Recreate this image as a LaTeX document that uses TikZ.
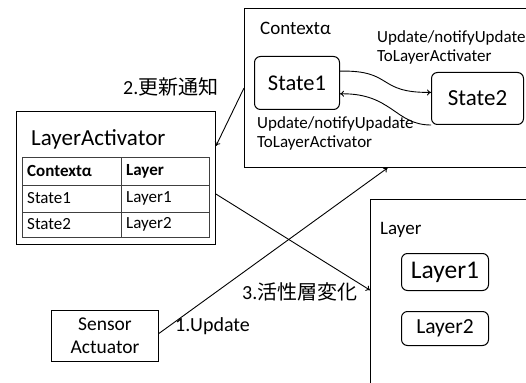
\documentclass[tikz,border=0pt]{standalone}
\usepackage{fontspec}
\setmainfont{Carlito}
\newfontfamily\cjk{Noto Sans CJK JP}
\usetikzlibrary{arrows.meta,calc}
\begin{document}
\begin{tikzpicture}[x=1pt,y=-1pt,
  box/.style={draw,line width=1pt,inner sep=0pt},
  rbox/.style={draw,line width=1pt,rounded corners=6pt,inner sep=0pt},
  txt/.style={inner sep=0pt,anchor=west},
  tbl/.style={draw=black!75,line width=0.8pt},
  arr/.style={-{To[length=4pt,width=6pt]},line width=0.9pt},
]
\useasboundingbox (0,0) rectangle (526,382);
\fill[white] (0,0) rectangle (526,382);
\clip (0,0) rectangle (526,382);

% Context box
\node[box,minimum width=286pt,minimum height=159pt,anchor=north west] (ctx) at (244,8) {};
\node[txt,font=\fontsize{19}{21}\selectfont] (ctxlbl) at (260,28) {Contextα};
\node[rbox,minimum width=85pt,minimum height=53pt,anchor=north west,font=\fontsize{22.5}{24}\selectfont] (s1) at (254,56) {State1};
\node[rbox,minimum width=92pt,minimum height=52pt,anchor=north west,font=\fontsize{23}{25}\selectfont] (s2) at (431,72) {State2};
\node[txt,anchor=north west,align=left,font=\fontsize{17}{19}\selectfont] (lbltop) at (377,30) {Update/notifyUpdate\\ToLayerActivater};
\node[txt,anchor=north west,align=left,font=\fontsize{17}{19}\selectfont] (lblbot) at (257,116) {Update/notifyUpadate\\ToLayerActivator};
\draw[arr] ($(s1.north east)!0.28!(s1.south east)$) .. controls (394,70) and (376,93) .. ($(s2.north west)!0.385!(s2.south west)$);
\draw[arr] (s2.south west) .. controls (395,125) and (392,93) .. ($(s1.north east)!0.7!(s1.south east)$);

% LayerActivator
\node[box,minimum width=199pt,minimum height=133pt,anchor=north west] (la) at (16,111) {};
\node[txt,font=\fontsize{23}{25}\selectfont] (latitle) at (31,139) {LayerActivator};
\draw[tbl] (22,157) rectangle (209,237);
\draw[tbl] (121,157) -- (121,237);
\draw[tbl] (22,185) -- (209,185);
\draw[tbl] (22,212) -- (209,212);
\node[txt,font=\fontsize{17}{19}\selectfont\bfseries] (c11) at (27,171) {Contextα};
\node[txt,font=\fontsize{17}{19}\selectfont\bfseries] (c12) at (126,171) {Layer};
\node[txt,font=\fontsize{17}{19}\selectfont] (c21) at (27,198.5) {State1};
\node[txt,font=\fontsize{17}{19}\selectfont] (c22) at (126,198.5) {Layer1};
\node[txt,font=\fontsize{17}{19}\selectfont] (c31) at (27,224.5) {State2};
\node[txt,font=\fontsize{17}{19}\selectfont] (c32) at (126,224.5) {Layer2};

% Sensor
\node[box,minimum width=107pt,minimum height=51pt,anchor=north west,align=center,font=\fontsize{19.5}{23}\selectfont] (sensor) at (51,310) {Sensor\\Actuator};

% Layer box
\node[box,minimum width=160pt,minimum height=185pt,anchor=north west] (lay) at (370,199) {};
\node[txt,font=\fontsize{19}{21}\selectfont] (laylbl) at (380,230) {Layer};
\node[rbox,minimum width=87pt,minimum height=37pt,anchor=north west,font=\fontsize{25.5}{27}\selectfont] (l1) at (401,253) {Layer1};
\node[rbox,minimum width=87pt,minimum height=34pt,anchor=north west,font=\fontsize{21.5}{23}\selectfont] (l2) at (401,311) {Layer2};

% connectors
\draw[arr] (ctx.west) -- ($(la.north east)!0.26!(la.south east)$);
\node[txt,font=\fontsize{20}{22}\selectfont] (lbl2) at (123,87) {2.{\cjk 更新通知}};
\draw[arr] ($(la.north east)!0.62!(la.south east)$) -- ($(lay.north west)!0.49!(lay.south west)$);
\node[txt,font=\fontsize{20}{22}\selectfont] (lbl3) at (242,292) {3.{\cjk 活性層変化}};
\draw[arr] ($(sensor.north east)!0.45!(sensor.south east)$) -- (ctx.south);
\node[txt,font=\fontsize{20}{22}\selectfont] (lbl1) at (175,326) {1.Update};
\end{tikzpicture}
\end{document}
